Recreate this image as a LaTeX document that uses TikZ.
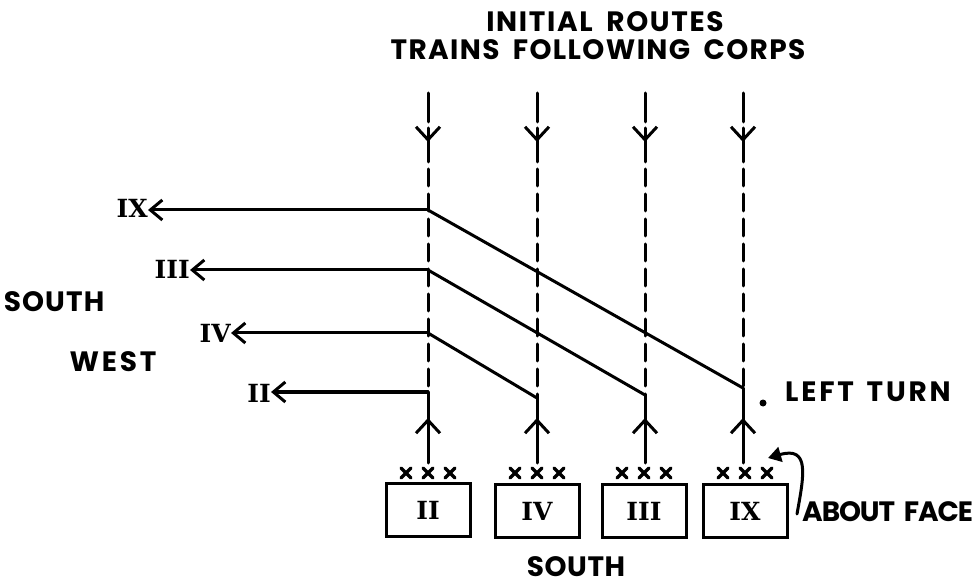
\documentclass[tikz,border=0pt]{standalone}
\usepackage{fontspec}
\newfontfamily\labfont{Poppins}
\newfontfamily\romfont{DejaVu Serif}
\usetikzlibrary{arrows.meta}
\newcommand{\lsp}[1]{\addfontfeature{LetterSpace=#1}}
\tikzset{
  lab/.style={font=\labfont\bfseries\fontsize{28}{30}\selectfont, inner sep=0pt},
  rom/.style={font=\romfont\bfseries\fontsize{25}{27}\selectfont, inner sep=0pt},
  corpsbox/.style={draw, line width=3pt, minimum width=84pt, minimum height=53pt, inner sep=0pt,
    font=\romfont\bfseries\fontsize{25}{27}\selectfont},
  route/.style={line width=3pt},
  trainroute/.style={line width=3pt, dash pattern=on 17pt off 8pt},
  barb/.style={-{Straight Barb[length=13pt, width=24pt, line width=3pt]}},
  lbarb/.style={-{Straight Barb[length=12pt, width=20pt, line width=3pt]}},
  xmark/.style={line width=3.4pt},
  turnarrow/.style={line width=3pt, -{Triangle[length=13pt, width=15pt]}},
}
\begin{document}
\begin{tikzpicture}[x=1pt, y=-1pt, line cap=round]
\useasboundingbox (0,0) rectangle (975,585);

% titles
\node[lab] (t1) at (605,22) {\lsp{6}INITIAL\hspace{6pt} ROUTES};
\node[lab] (t2) at (598,50) {\lsp{5}TRAINS\hspace{6pt} FOLLOWING\hspace{6pt} CORPS};

% side labels
\node[lab] (south) at (54,302) {\lsp{4}SOUTH};
\node[lab] (west) at (113,362) {\lsp{10}WEST};
\node[lab, anchor=west] (lturn) at (785,392) {\lsp{10}LEFT\hspace{4pt} TURN};
\node[lab, anchor=west] (aface) at (802,512) {\lsp{-4}ABOUT\hspace{4pt} FACE};
\node[lab] (bsouth) at (576,567) {\lsp{2}SOUTH};
\fill (763,403) circle (3.5pt);

% corps boxes
\node[corpsbox] (bII) at (428,510) {II};
\node[corpsbox] (bIV) at (537,511) {IV};
\node[corpsbox] (bIII) at (644,511) {III};
\node[corpsbox] (bIX) at (745,511) {IX};

% xxx marks
\foreach \cx in {428,537,644,745}{
  \foreach \dx in {-22,0,22}{
    \draw[xmark] (\cx+\dx-5,468) -- (\cx+\dx+5,478);
    \draw[xmark] (\cx+\dx-5,478) -- (\cx+\dx+5,468);
  }
}

% coordinates of columns
\foreach \n/\x/\ty in {1/428/392, 2/537/398, 3/645/395, 4/743/388}{
  \coordinate (top\n) at (\x,93);
  \coordinate (dashend\n) at (\x,122);
  \coordinate (ya\n) at (\x,128);
  \coordinate (yt\n) at (\x,142);
  \coordinate (yb\n) at (\x,162);
  \coordinate (ds\n) at (\x,169);
  \coordinate (turn\n) at (\x,\ty);
  \coordinate (up\n) at (\x,418);
  \coordinate (foot\n) at (\x,463);
}

% initial train routes (dashed, from the north)
\foreach \n in {1,2,3,4}{
  \draw[route] (top\n) -- (dashend\n);
  \draw[route] (ya\n) -- (yb\n);
  \draw[barb] (ya\n) -- (yt\n);
  \draw[trainroute] (ds\n) -- (turn\n);
  \draw[route] (foot\n) -- (turn\n);
  \draw[barb] (foot\n) -- (up\n);
}

% branch points on column 1
\coordinate (bIXp) at (428,210);
\coordinate (bIIIp) at (428,270);
\coordinate (bIVp) at (428,333);

% left-turn routes
\node[rom, anchor=east] (lIX) at (148,208) {IX};
\node[rom, anchor=east] (lIII) at (190,269) {III};
\node[rom, anchor=east] (lIV) at (231,333) {IV};
\node[rom, anchor=east] (lII) at (271,393) {II};

\draw[route] (turn4) -- (bIXp);
\draw[route, lbarb] (bIXp) -- (lIX.east |- bIXp);
\draw[route] (turn3) -- (bIIIp);
\draw[route, lbarb] (bIIIp) -- (lIII.east |- bIIIp);
\draw[route] (turn2) -- (bIVp);
\draw[route, lbarb] (bIVp) -- (lIV.east |- bIVp);
\draw[route, lbarb] (turn1) -- (lII.east |- turn1);

% about face arrow
\coordinate (afs) at (797,514);
\draw[turnarrow] (afs) .. controls (804,475) and (810,446) .. (768,458);
\end{tikzpicture}
\end{document}
